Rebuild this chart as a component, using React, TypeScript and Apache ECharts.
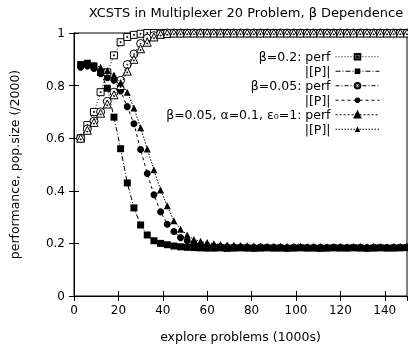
import React, { useEffect, useRef } from "react";
import * as echarts from "echarts";

const titleText = "XCSTS in Multiplexer 20 Problem, β Dependence";
const xName = "explore problems (1000s)";
const yName = "performance, pop.size (/2000)";

const xs = [3, 6, 9, 12, 15, 18, 21, 24, 27, 30, 33, 36, 39, 42, 45, 48, 51, 54, 57, 60,
  63, 66, 69, 72, 75, 78, 81, 84, 87, 90, 93, 96, 99, 102, 105, 108, 111, 114, 117, 120,
  123, 126, 129, 132, 135, 138, 141, 144, 147, 150];

const sqPerf = [0.60, 0.65, 0.70, 0.775, 0.85, 0.915, 0.965, 0.985, 0.993, 0.997,
  1, 1, 1, 1, 1, 1, 1, 1, 1, 1,
  1, 1, 1, 1, 1, 1, 1, 1, 1, 1,
  1, 1, 1, 1, 1, 1, 1, 1, 1, 1,
  1, 1, 1, 1, 1, 1, 1, 1, 1, 1];

const sqP = [0.88, 0.885, 0.875, 0.85, 0.79, 0.68, 0.56, 0.43, 0.335, 0.27,
  0.232, 0.21, 0.2, 0.195, 0.19, 0.187, 0.185, 0.184, 0.183, 0.182,
  0.182, 0.183, 0.181, 0.182, 0.183, 0.182, 0.181, 0.182, 0.183, 0.182,
  0.182, 0.181, 0.182, 0.183, 0.182, 0.182, 0.181, 0.182, 0.183, 0.182,
  0.182, 0.183, 0.182, 0.181, 0.182, 0.183, 0.182, 0.182, 0.183, 0.184];

const circPerf = [0.60, 0.635, 0.665, 0.70, 0.74, 0.775, 0.82, 0.88, 0.92, 0.96,
  0.98, 0.99, 0.997, 1, 1, 1, 1, 1, 1, 1,
  1, 1, 1, 1, 1, 1, 1, 1, 1, 1,
  1, 1, 1, 1, 1, 1, 1, 1, 1, 1,
  1, 1, 1, 1, 1, 1, 1, 1, 1, 1];

const circP = [0.87, 0.875, 0.865, 0.845, 0.83, 0.82, 0.78, 0.72, 0.655, 0.557,
  0.466, 0.385, 0.32, 0.273, 0.245, 0.222, 0.21, 0.2, 0.195, 0.191,
  0.189, 0.188, 0.187, 0.187, 0.186, 0.186, 0.185, 0.186, 0.185, 0.185,
  0.185, 0.184, 0.185, 0.185, 0.184, 0.185, 0.185, 0.184, 0.185, 0.185,
  0.184, 0.185, 0.185, 0.184, 0.185, 0.185, 0.184, 0.185, 0.185, 0.186];

const triPerf = [0.60, 0.63, 0.66, 0.695, 0.73, 0.765, 0.80, 0.855, 0.90, 0.94,
  0.965, 0.985, 0.995, 0.998, 1, 1, 1, 1, 1, 1,
  1, 1, 1, 1, 1, 1, 1, 1, 1, 1,
  1, 1, 1, 1, 1, 1, 1, 1, 1, 1,
  1, 1, 1, 1, 1, 1, 1, 1, 1, 1];

const triP = [0.88, 0.885, 0.878, 0.87, 0.857, 0.84, 0.81, 0.775, 0.715, 0.64,
  0.559, 0.48, 0.403, 0.343, 0.286, 0.254, 0.232, 0.215, 0.208, 0.203,
  0.199, 0.196, 0.194, 0.193, 0.192, 0.191, 0.19, 0.19, 0.189, 0.189,
  0.189, 0.188, 0.188, 0.189, 0.188, 0.188, 0.188, 0.187, 0.188, 0.188,
  0.187, 0.188, 0.188, 0.187, 0.188, 0.188, 0.187, 0.188, 0.188, 0.188];

const seriesNames = [
  "β=0.2: perf",
  "β=0.2: |[P]|",
  "β=0.05: perf",
  "β=0.05: |[P]|",
  "β=0.05, α=0.1, ε₀=1: perf",
  "β=0.05, α=0.1, ε₀=1: |[P]|",
];
const pLabel = "|[P]|";

const FONT = "DejaVu Sans";

export default function App() {
  const ref = useRef<HTMLDivElement>(null);
  useEffect(() => {
    const chart = echarts.init(ref.current!, null, { renderer: "svg" });
    const mk = (ys: number[]) => xs.map((x, i) => [x, ys[i]]);
    const openSq = "path://M0 0H10V10H0Z M4.3 4.3H5.7V5.7H4.3Z";
    const openCirc = "path://M5 0A5 5 0 1 1 5 10A5 5 0 1 1 5 0Z M5 4.4A0.6 0.6 0 1 1 5 5.6A0.6 0.6 0 1 1 5 4.4Z";
    const openTri = "path://M5 0L10 9H0Z M4.4 5.4H5.6V6.4H4.4Z";
    const openStyle = { color: "#fff", borderColor: "#000", borderWidth: 1 };
    const fillStyle = { color: "#000" };
    const line = (type: any) => ({ color: "#000", width: 1, type });
    const sets = [
      { d: sqPerf, sym: openSq, size: 7, it: openStyle, ls: line([1, 2]) },
      { d: sqP, sym: "rect", size: 7, it: fillStyle, ls: line([5, 2, 1, 2]) },
      { d: circPerf, sym: openCirc, size: 8, it: openStyle, ls: line([4, 2, 1, 2]) },
      { d: circP, sym: "circle", size: 7, it: fillStyle, ls: line([3, 3]) },
      { d: triPerf, sym: openTri, size: 8, it: openStyle, ls: line([2, 2]) },
      { d: triP, sym: "triangle", size: 7, it: fillStyle, ls: line([1.5, 1.5]) },
    ];
    const series = sets.map((s, i) => ({
      name: seriesNames[i],
      type: "line",
      data: mk(s.d),
      symbol: s.sym,
      symbolSize: s.size,
      showSymbol: true,
      showAllSymbol: true,
      lineStyle: s.ls,
      itemStyle: s.it,
      emphasis: { disabled: true },
      z: 2 + i,
    }));
    const axisCommon = {
      axisLine: { show: true, lineStyle: { color: "#000", width: 1 } },
      axisTick: { show: true, inside: true, length: 5, lineStyle: { color: "#000" } },
      splitLine: { show: false },
    };
    const labelStyle = { color: "#000", fontFamily: FONT, fontSize: 12 };
    chart.setOption({
      animation: false,
      textStyle: { fontFamily: FONT, color: "#000" },
      title: {
        text: titleText,
        left: 241,
        textAlign: "center",
        top: 1,
        textStyle: { fontFamily: FONT, fontSize: 13, fontWeight: "normal", color: "#000" },
      },
      grid: { left: 73, right: 1, top: 33, bottom: 62, show: true, borderColor: "#000", borderWidth: 1 },
      legend: {
        data: seriesNames,
        orient: "vertical",
        align: "right",
        right: 23,
        top: 45,
        itemWidth: 44,
        itemHeight: 7,
        itemGap: 1,
        selectedMode: false,
        lineStyle: { width: 1 },
        formatter: (n: string) => (n.endsWith(pLabel) ? pLabel : n),
        textStyle: { fontFamily: FONT, fontSize: 12.5, color: "#000", lineHeight: 13.5 },
      },
      xAxis: [
        {
          type: "value", min: 0, max: 150, interval: 20,
          ...axisCommon,
          axisLabel: { ...labelStyle, margin: 8, showMaxLabel: false },
          name: xName, nameLocation: "middle", nameGap: 34,
          nameTextStyle: { fontFamily: FONT, fontSize: 12.5, color: "#000" },
        },
        {
          type: "value", min: 0, max: 150, interval: 20, position: "top",
          ...axisCommon,
          axisLabel: { show: false },
        },
      ],
      yAxis: [
        {
          type: "value", min: 0, max: 1, interval: 0.2,
          ...axisCommon,
          axisLabel: { ...labelStyle, margin: 9 },
          name: yName, nameLocation: "middle", nameGap: 53, nameRotate: 90,
          nameTextStyle: { fontFamily: FONT, fontSize: 12.5, color: "#000" },
        },
        {
          type: "value", min: 0, max: 1, interval: 0.2, position: "right",
          ...axisCommon,
          axisLabel: { show: false },
        },
      ],
      series,
    });
    return () => chart.dispose();
  }, []);
  return <div ref={ref} style={{ position: "fixed", left: 0, top: 0, width: 408, height: 358 }} />;
}
